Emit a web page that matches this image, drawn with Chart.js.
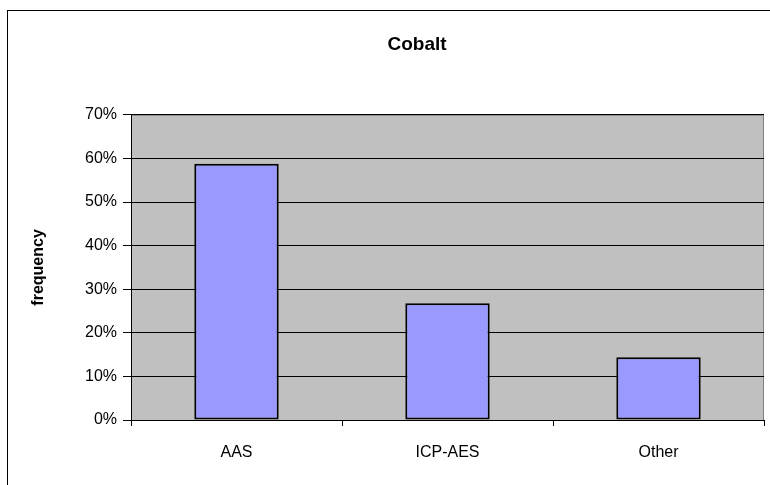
<!DOCTYPE html>
<html>
<head>
<meta charset="utf-8">
<title>Cobalt</title>
<script src="https://cdn.jsdelivr.net/npm/chart.js@4.4.1/dist/chart.umd.min.js"></script>
<style>
    html, body { margin: 0; padding: 0; background: #fff; overflow: hidden; width: 770px; height: 485px; }
    #wrap { position: relative; width: 834px; height: 485px; }
    #frame { position: absolute; left: 7px; top: 10px; width: 818px; height: 500px; border: 1px solid #000; pointer-events: none; }
    canvas { position: absolute; left: 0; top: 0; }
</style>
</head>
<body>
<div id="wrap">
    <canvas id="cobaltChart" width="834" height="485"></canvas>
    <div id="frame"></div>
</div>
<script>
// dati del grafico
const categorie = ['AAS', 'ICP-AES', 'Other'];
const frequenze = [58.8, 26.8, 14.4];
const tickY = [0, 10, 20, 30, 40, 50, 60, 70];

const fontBase = "'Liberation Sans', Arial, sans-serif";

// sfondo grigio dell'area del grafico
const sfondoArea = {
    id: 'sfondoArea',
    beforeDraw(chart) {
        const a = chart.chartArea;
        const ctx = chart.ctx;
        ctx.save();
        ctx.fillStyle = '#c0c0c0';
        ctx.fillRect(a.left, a.top, a.right - a.left, a.bottom - a.top);
        ctx.strokeStyle = '#808080';
        ctx.lineWidth = 1;
        ctx.strokeRect(a.left + 0.5, a.top + 0.5, a.right - a.left - 1, a.bottom - a.top);
        ctx.restore();
    }
};

document.addEventListener('DOMContentLoaded', function () {
    const ctx = document.getElementById('cobaltChart').getContext('2d');
    new Chart(ctx, {
        type: 'bar',
        data: {
            labels: categorie,
            datasets: [{
                label: 'frequency',
                data: frequenze,
                backgroundColor: '#9999ff',
                borderColor: '#000',
                borderWidth: 2,
                borderSkipped: false,
                categoryPercentage: 1,
                barPercentage: 0.4
            }]
        },
        options: {
            responsive: false,
            animation: false,
            layout: { padding: 0 },
            plugins: {
                legend: { display: false },
                tooltip: { enabled: false },
                title: {
                    display: true,
                    text: 'Cobalt',
                    color: '#000',
                    font: { family: fontBase, size: 19, weight: 'bold' },
                    padding: { top: 33, bottom: 59 }
                }
            },
            scales: {
                x: {
                    offset: true,
                    grid: {
                        offset: true,
                        drawOnChartArea: false,
                        drawTicks: true,
                        tickLength: 6,
                        color: '#000'
                    },
                    border: { color: '#000', width: 1 },
                    ticks: {
                        color: '#000',
                        padding: 17,
                        font: { family: fontBase, size: 16 }
                    },
                    afterFit(scale) { scale.height = 65; }
                },
                y: {
                    min: 0,
                    max: 70,
                    afterBuildTicks(scale) {
                        scale.ticks = tickY.map(v => ({ value: v }));
                    },
                    grid: {
                        color: '#000',
                        tickLength: 8
                    },
                    border: { color: '#000', width: 1 },
                    ticks: {
                        color: '#000',
                        padding: 6,
                        font: { family: fontBase, size: 16 },
                        callback: v => v + '%'
                    },
                    title: {
                        display: true,
                        text: 'frequency',
                        color: '#000',
                        font: { family: fontBase, size: 16, weight: 'bold' },
                        padding: { top: 29, bottom: 0 }
                    },
                    afterFit(scale) { scale.width = 131; }
                },
                // asse vuoto a destra, tiene il titolo centrato sulla cornice
                destra: {
                    position: 'right',
                    display: true,
                    grid: { display: false },
                    border: { display: false },
                    ticks: { display: false },
                    afterFit(scale) { scale.width = 70; }
                }
            }
        },
        plugins: [sfondoArea]
    });
});
</script>
</body>
</html>
